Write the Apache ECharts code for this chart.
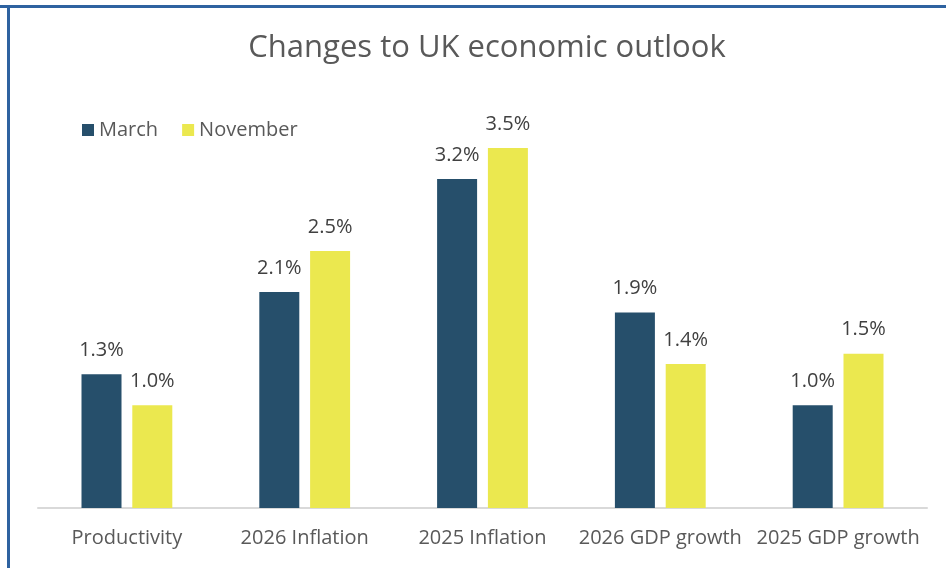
<!DOCTYPE html>
<html>
<head>
<meta charset="utf-8">
<script src="https://cdn.jsdelivr.net/npm/echarts@6/dist/echarts.min.js"></script>
<style>
  html, body { margin: 0; padding: 0; background: #ffffff; }
  #chart { width: 946px; height: 568px; }
</style>
</head>
<body>
<div id="chart"></div>
<script>
// Forecast categories and the two forecast rounds (percent)
const categories = ['Productivity', '2026 Inflation', '2025 Inflation', '2026 GDP growth', '2025 GDP growth'];
const marchValues = [1.3, 2.1, 3.2, 1.9, 1.0];
const novemberValues = [1.0, 2.5, 3.5, 1.4, 1.5];
const seriesNames = ['March', 'November'];

const FONT = '"Open Sans", "Liberation Sans", sans-serif';

const chart = echarts.init(document.getElementById('chart'), null, { renderer: 'canvas' });

const labelStyle = {
  show: true,
  position: 'top',
  distance: 14,
  color: '#404040',
  fontFamily: FONT,
  fontSize: 20,
  formatter: p => p.value.toFixed(1) + '%'
};

chart.setOption({
  animation: false,
  backgroundColor: '#ffffff',
  title: {
    text: 'Changes to UK economic outlook',
    left: 482,
    textAlign: 'center',
    top: 28,
    textStyle: { color: '#595959', fontFamily: FONT, fontSize: 31, fontWeight: 'normal' }
  },
  legend: {
    data: seriesNames,
    left: 77,
    top: 115,
    itemWidth: 12,
    itemHeight: 12,
    itemGap: 24,
    icon: 'rect',
    textStyle: { color: '#595959', fontFamily: FONT, fontSize: 20 }
  },
  grid: { left: 38, right: 19, top: 96.6, bottom: 60, containLabel: false },
  xAxis: {
    type: 'category',
    data: categories,
    axisLine: { lineStyle: { color: '#d9d9d9', width: 2 } },
    axisTick: { show: false },
    axisLabel: { interval: 0, color: '#595959', fontFamily: FONT, fontSize: 20, margin: 20 }
  },
  yAxis: {
    type: 'value',
    min: 0,
    max: 4,
    show: false,
    splitLine: { show: false }
  },
  series: [
    {
      name: seriesNames[0],
      type: 'bar',
      data: marchValues,
      barWidth: 40,
      barGap: '27%',
      itemStyle: { color: '#264f6b' },
      label: labelStyle
    },
    {
      name: seriesNames[1],
      type: 'bar',
      data: novemberValues,
      barWidth: 40,
      itemStyle: { color: '#ebe84f' },
      label: labelStyle
    }
  ],
  graphic: [
    { type: 'rect', shape: { x: 0, y: 5, width: 946, height: 3 }, style: { fill: '#2e62a0' } },
    { type: 'rect', shape: { x: 7, y: 5, width: 3, height: 563 }, style: { fill: '#2e62a0' } }
  ]
});
</script>
</body>
</html>
